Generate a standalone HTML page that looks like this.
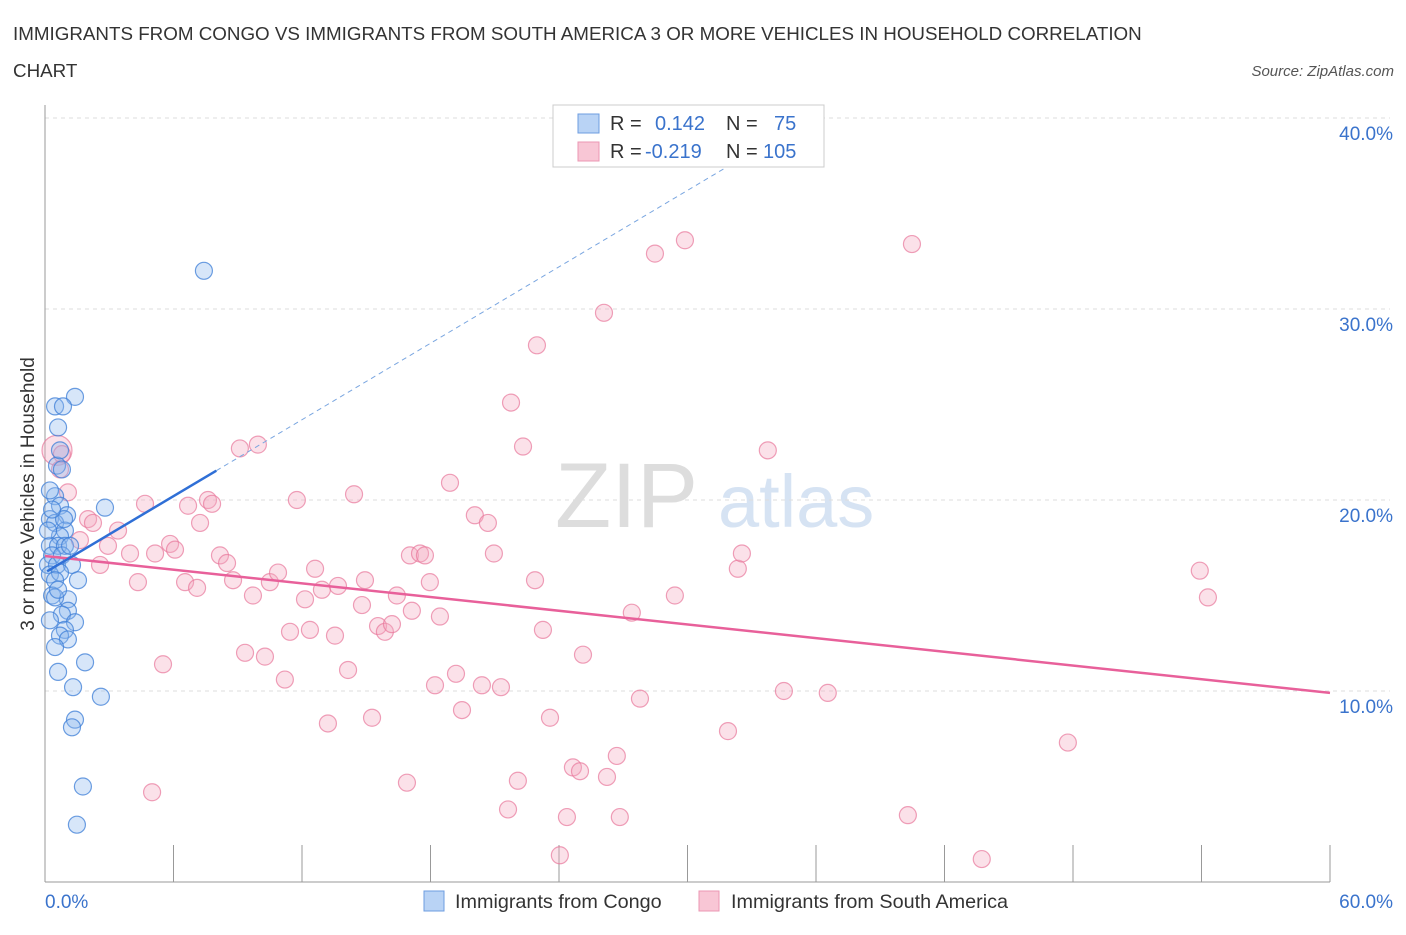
<!DOCTYPE html>
<html><head><meta charset="utf-8"><style>
body{margin:0;background:#fff;font-family:"Liberation Sans",sans-serif;}
svg text{font-family:"Liberation Sans",sans-serif;}
</style></head><body>
<svg id="chart" width="1406" height="930" viewBox="0 0 1406 930" xmlns="http://www.w3.org/2000/svg">
<text x="13" y="40" font-size="18.8" fill="#333">IMMIGRANTS FROM CONGO VS IMMIGRANTS FROM SOUTH AMERICA 3 OR MORE VEHICLES IN HOUSEHOLD CORRELATION</text>
<text x="13" y="77" font-size="18.8" fill="#333">CHART</text>
<text x="1394" y="76" font-size="15" fill="#555" font-style="italic" text-anchor="end">Source: ZipAtlas.com</text>
<text x="555" y="527" font-size="92" fill="#ddd" font-family="Liberation Serif">ZIP</text>
<text x="718" y="527" font-size="74" fill="#d6e3f3">atlas</text>
<g id="grid"></g><g id="axes"></g><g id="pts"></g><g id="lines"></g>
<text transform="translate(34,494) rotate(-90)" font-size="19" fill="#333" text-anchor="middle">3 or more Vehicles in Household</text>
<g>
<rect x="553" y="105" width="271" height="62" fill="#fff" stroke="#ccc"/>
<rect x="578" y="114" width="21" height="19" fill="#b9d3f5" stroke="#6d9de0"/>
<rect x="578" y="142" width="21" height="19" fill="#f8c6d5" stroke="#eb97b3"/>
<text x="610" y="130" font-size="20" fill="#333">R =</text><text x="655" y="130" font-size="20" fill="#3a73cc">0.142</text>
<text x="726" y="130" font-size="20" fill="#333">N =</text><text x="774" y="130" font-size="20" fill="#3a73cc">75</text>
<text x="610" y="158" font-size="20" fill="#333">R =</text><text x="645" y="158" font-size="20" fill="#3a73cc">-0.219</text>
<text x="726" y="158" font-size="20" fill="#333">N =</text><text x="763" y="158" font-size="20" fill="#3a73cc">105</text>
</g>
<g>
<rect x="424" y="891" width="20" height="20" fill="#b9d3f5" stroke="#6d9de0"/>
<text x="455" y="908" font-size="19.8" fill="#333">Immigrants from Congo</text>
<rect x="699" y="891" width="20" height="20" fill="#f8c6d5" stroke="#eb97b3"/>
<text x="731" y="908" font-size="19.8" fill="#333">Immigrants from South America</text>
</g>
</svg>
<script>
const congoX=[7.42,1.40,0.47,0.84,0.61,0.56,0.79,0.47,2.80,0.70,1.03,0.23,0.47,0.93,0.70,0.23,0.61,0.93,0.33,0.79,0.14,0.56,1.26,0.23,0.70,1.54,0.47,0.33,1.07,0.47,1.07,0.79,1.40,0.93,0.70,1.07,0.47,1.87,0.61,1.31,2.61,1.40,1.26,1.77,1.49,0.70,0.23,0.14,1.17,0.61,0.23,0.89,0.33];
const congoY=[32.0,25.4,24.9,24.9,23.8,21.8,21.6,20.2,19.6,19.7,19.2,19.0,18.8,18.4,18.1,17.6,17.6,17.6,17.1,17.1,16.6,16.6,16.6,16.1,16.2,15.8,15.8,15.0,14.8,14.9,14.2,14.0,13.6,13.2,12.9,12.7,12.3,11.5,11.0,10.2,9.7,8.5,8.1,5.0,3.0,22.6,20.5,18.4,17.6,15.3,13.7,19.0,19.5];
const saX=[0.56,0.79,0.70,1.07,1.63,2.01,2.24,2.94,3.41,3.97,2.57,4.67,4.34,5.14,5.51,5.00,5.84,6.07,6.54,6.68,7.10,7.24,7.61,7.80,8.17,8.50,8.78,9.10,9.94,9.34,9.71,10.27,10.50,10.88,11.20,11.44,11.76,12.14,12.37,12.61,12.93,13.21,13.54,13.68,14.15,14.43,14.94,14.80,15.27,15.55,15.87,16.20,16.43,16.90,17.04,17.13,17.51,17.74,17.97,18.21,18.44,18.91,19.19,19.47,20.07,20.40,20.68,20.96,21.29,21.62,21.76,22.08,22.32,22.88,22.97,23.25,23.58,24.04,24.37,24.65,24.98,25.12,26.10,26.24,26.70,26.84,27.40,27.78,28.48,29.41,29.88,31.89,32.35,32.54,33.75,34.50,36.55,40.29,40.48,43.74,47.76,53.92,54.30];
const saY=[22.6,22.4,21.6,20.4,17.9,19.0,18.8,17.6,18.4,17.2,16.6,19.8,15.7,17.2,11.4,4.7,17.7,17.4,15.7,19.7,15.4,18.8,20.0,19.8,17.1,16.7,15.8,22.7,22.9,12.0,15.0,11.8,15.7,16.2,10.6,13.1,20.0,14.8,13.2,16.4,15.3,8.3,12.9,15.5,11.1,20.3,15.8,14.5,8.6,13.4,13.1,13.5,15.0,5.2,17.1,14.2,17.2,17.1,15.7,10.3,13.9,20.9,10.9,9.0,19.2,10.3,18.8,17.2,10.2,3.8,25.1,5.3,22.8,15.8,28.1,13.2,8.6,1.4,3.4,6.0,5.8,11.9,29.8,5.5,6.6,3.4,14.1,9.6,32.9,15.0,33.6,7.9,16.4,17.2,22.6,10.0,9.9,3.5,33.4,1.2,7.3,16.3,14.9];
const yTicks=[10,20,30,40];
const xTickLabels=["0.0%","60.0%"];
const congoTrend=[16.2,0.667];
const saTrend=[17.07,-0.1195];
const X=v=>45+v*(1285/60), Y=v=>882-v*19.1;
const NS="http://www.w3.org/2000/svg";
function mk(t,a,p){const e=document.createElementNS(NS,t);for(const k in a)e.setAttribute(k,a[k]);p.appendChild(e);return e;}
const grid=document.getElementById('grid'),axes=document.getElementById('axes'),pts=document.getElementById('pts'),lines=document.getElementById('lines');
yTicks.forEach(t=>{
 const l=mk('line',{x1:45,x2:1390,y1:Y(t),y2:Y(t),stroke:'#ddd','stroke-dasharray':'4,4'},grid);
 
 
 const tx=mk('text',{x:1393,y:Y(t)+22,'font-size':19,fill:'#3a73cc','text-anchor':'end'},axes);
 tx.textContent=t.toFixed(1)+'%';
 
 
});
let ax=mk('line',{x1:45,x2:45,y1:105,y2:882,stroke:'#999'},axes);


ax=mk('line',{x1:45,x2:1330,y1:882,y2:882,stroke:'#999'},axes);


for(let i=1;i<=10;i++){
 const tk=mk('line',{x1:X(i*6),x2:X(i*6),y1:845,y2:882,stroke:'#999'},axes);
 
 
}
[[0,'start',45],[60,'end',1393]].forEach((d,i)=>{
 const tx=mk('text',{x:d[2],y:908,'font-size':19,fill:'#3a73cc','text-anchor':d[1]},axes);
 tx.textContent=xTickLabels[i];
 
 
});
saX.forEach((x,i)=>{
 const c=mk('circle',{cx:X(x),cy:Y(saY[i]),r:i==0?15:8.5,fill:'rgba(244,168,192,0.35)',stroke:'rgba(232,120,155,0.7)','stroke-width':1.2},pts);
 
 
});
congoX.forEach((x,i)=>{
 const c=mk('circle',{cx:X(x),cy:Y(congoY[i]),r:8.5,fill:'rgba(140,182,238,0.35)',stroke:'rgba(60,125,215,0.75)','stroke-width':1.2},pts);
 
 
});
let l=mk('line',{x1:X(0),y1:Y(saTrend[0]),x2:X(60),y2:Y(saTrend[0]+saTrend[1]*60),stroke:'#e8609a','stroke-width':2.5},lines);


const xe=(40-congoTrend[0])/congoTrend[1];
l=mk('line',{x1:X(8),y1:Y(congoTrend[0]+congoTrend[1]*8),x2:X(xe),y2:Y(40),stroke:'#7aa6e0','stroke-width':1,'stroke-dasharray':'5,4'},lines);


l=mk('line',{x1:X(0.1),y1:Y(congoTrend[0]+congoTrend[1]*0.1),x2:X(8),y2:Y(congoTrend[0]+congoTrend[1]*8),stroke:'#2f6fd6','stroke-width':2.5},lines);


</script>
</body></html>
